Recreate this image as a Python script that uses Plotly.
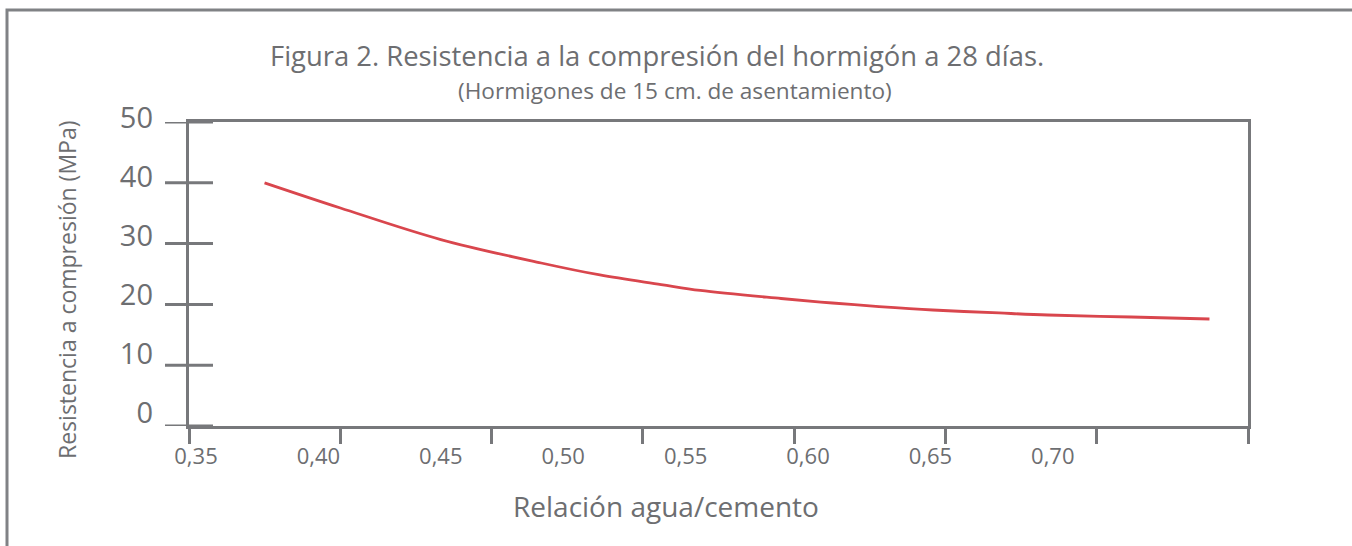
import plotly.graph_objects as go

# data
ratio = [0.378, 0.409, 0.450, 0.491, 0.515, 0.540, 0.556, 0.589, 0.610, 0.629, 0.651, 0.678, 0.698, 0.732, 0.764]
strength = [40.0, 35.86, 30.67, 26.81, 24.84, 23.27, 22.29, 20.97, 20.23, 19.65, 19.08, 18.59, 18.26, 17.93, 17.60]

x_tick_vals = [0.35, 0.40, 0.45, 0.50, 0.55, 0.60, 0.65, 0.70]
x_tick_text = ["0,35", "0,40", "0,45", "0,50", "0,55", "0,60", "0,65", "0,70"]
y_tick_vals = [0, 10, 20, 30, 40, 50]
y_tick_text = ["0", "10", "20", "30", "40", "50"]

title_text = "Figura 2. Resistencia a la compresión del hormigón a 28 días."
subtitle_text = "(Hormigones de 15 cm. de asentamiento)"
x_title = "Relación agua/cemento"
y_title = "Resistencia a compresión (MPa)"

FONT = "Open Sans"
TXT = "#6d6e71"
AX = "#77787b"
RED = "#d9464d"

W, H = 1352, 546
L, R, T, B = 189, 104, 100, 120
pw = W - L - R
ph = H - T - B


def px(xp):
    return (xp - L) / pw


def py(yp):
    return (H - B - yp) / ph


fig = go.Figure()
fig.add_trace(go.Scatter(x=ratio, y=strength, mode="lines",
                         line=dict(color=RED, width=2.8, shape="spline", smoothing=1.0),
                         hoverinfo="skip", showlegend=False))
# helper traces to bind the overlay axes
fig.add_trace(go.Scatter(x=[None], y=[None], xaxis="x2", yaxis="y", showlegend=False, hoverinfo="skip"))
fig.add_trace(go.Scatter(x=[None], y=[None], xaxis="x", yaxis="y3", showlegend=False, hoverinfo="skip"))

y_top = py(122)

# crossing y-axis tick marks, drawn on the y scale
cross_ticks = [dict(type="line", xref="paper", yref="y", x0=px(165), x1=px(213), y0=v, y1=v,
                    line=dict(color=AX, width=3), layer="above") for v in y_tick_vals]

frame = dict(type="rect", xref="paper", yref="paper",
             x0=px(7), x1=px(1370), y0=py(560), y1=py(10),
             line=dict(color="#808285", width=3), fillcolor="rgba(0,0,0,0)")

fig.update_layout(
    width=W, height=H,
    margin=dict(l=L, r=R, t=T, b=B),
    paper_bgcolor="white", plot_bgcolor="rgba(0,0,0,0)",
    font=dict(family=FONT, color=TXT),
    showlegend=False,
    xaxis=dict(domain=[0, 1], range=[0.35 - 7 / 2448, 0.35 + 1052 / 2448],
               tickvals=x_tick_vals, ticktext=x_tick_text, ticks="",
               showline=False, showgrid=False, zeroline=False,
               tickfont=dict(size=22, color=TXT), ticklabelstandoff=15),
    xaxis2=dict(overlaying="x", anchor="y", side="bottom", range=[0.35, 0.70],
                tickvals=x_tick_vals, ticks="outside", ticklen=15, tickwidth=3, tickcolor=AX,
                showticklabels=False, showline=True, linewidth=3, linecolor=AX, mirror=True,
                showgrid=False, zeroline=False),
    yaxis=dict(domain=[0, y_top], range=[0, 50], anchor="x",
               tickvals=y_tick_vals, ticks="",
               showticklabels=False, showline=True, linewidth=3, linecolor=AX, mirror=True,
               showgrid=False, zeroline=False),
    yaxis3=dict(domain=[0, 1], anchor="free", position=0, side="left",
                range=[-13 / 5.9, 50 + 18 / 5.9],
                tickvals=y_tick_vals, ticktext=y_tick_text, ticks="",
                showline=False, showgrid=False, zeroline=False,
                tickfont=dict(size=29, color=TXT), ticklabelstandoff=36),
    shapes=[frame] + cross_ticks,
    annotations=[
        dict(text=title_text, xref="paper", yref="paper", x=px(657), y=py(56),
             xanchor="center", yanchor="middle", showarrow=False,
             font=dict(size=27.4, color=TXT, family=FONT)),
        dict(text=subtitle_text, xref="paper", yref="paper", x=px(675), y=py(91),
             xanchor="center", yanchor="middle", showarrow=False,
             font=dict(size=22.6, color=TXT, family=FONT)),
        dict(text=x_title, xref="paper", yref="paper", x=px(666), y=py(506),
             xanchor="center", yanchor="middle", showarrow=False,
             font=dict(size=28, color=TXT, family=FONT)),
        dict(text=y_title, xref="paper", yref="paper", x=px(67), y=py(290),
             xanchor="center", yanchor="middle", showarrow=False, textangle=-90,
             font=dict(size=23, color=TXT, family=FONT)),
    ],
)

fig.write_html("out.html", config={"displayModeBar": False},
               post_script="document.body.style.margin='0px';")
